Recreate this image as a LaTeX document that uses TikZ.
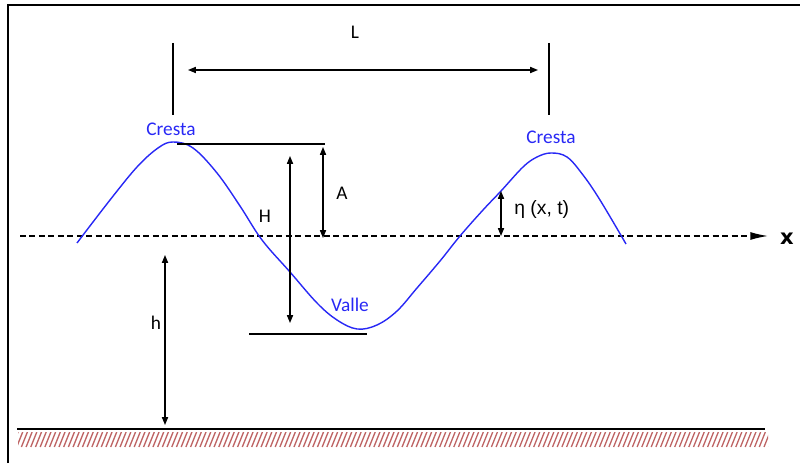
\documentclass[tikz,border=0pt]{standalone}
\usepackage{fontspec}
\setmainfont{Carlito}
\newfontfamily\arialfont{Liberation Sans}
\newfontfamily\heavyfont{DejaVu Sans}
\usetikzlibrary{arrows.meta}
\definecolor{waveblue}{RGB}{40,40,245}
\definecolor{hatchred}{RGB}{190,100,100}

\begin{document}
\begin{tikzpicture}[x=0.02cm, y=0.02cm,
    lbl/.style={font=\fontsize{11}{13}\selectfont, inner sep=0pt},
    bluelbl/.style={lbl, text=waveblue},
    dimarrow/.style={{Triangle[length=4.5pt,width=3.5pt]}-{Triangle[length=4.5pt,width=3.5pt]}, line width=0.7pt},
    axisline/.style={-{Latex[length=10pt,width=4.5pt]}, dash pattern=on 3.4pt off 2pt, line width=0.75pt},
    thickline/.style={line width=1.1pt},
    wave/.style={draw=waveblue, line width=0.8pt},
    hatch/.style={draw=hatchred, line width=0.75pt}]
    \useasboundingbox (0,0) rectangle (800,463);

    % Frame
    \draw[line width=1.2pt] (8,0) -- (8,458) -- (800,458);

    % Points used by the dimension arrows
    \coordinate (tickLtop) at (173,420);  \coordinate (tickLbot) at (173,348);
    \coordinate (tickRtop) at (549,420);  \coordinate (tickRbot) at (549,348);
    \coordinate (lenL) at (188,393);      \coordinate (lenR) at (538,393);
    \coordinate (crestTop) at (177,319);  \coordinate (crestEnd) at (325,319);
    \coordinate (ampTop) at (323,316);    \coordinate (ampBot) at (323,225);
    \coordinate (hgtTop) at (290,307);    \coordinate (hgtBot) at (290,140);
    \coordinate (troughL) at (249,129);   \coordinate (troughR) at (367,129);
    \coordinate (etaTop) at (501,272);    \coordinate (etaBot) at (501,227);
    \coordinate (axisL) at (20,227);      \coordinate (axisR) at (768,227);
    \coordinate (depthTop) at (165,208);  \coordinate (depthBot) at (165,38);
    \coordinate (gndL) at (17,34);        \coordinate (gndR) at (765,34);

    % Wave length L
    \draw[thickline] (tickLtop) -- (tickLbot);
    \draw[thickline] (tickRtop) -- (tickRbot);
    \draw[dimarrow] (lenL) -- (lenR);
    \node[lbl] (lenlbl) at (355,431) {L};

    % Still water level
    \draw[axisline] (axisL) -- (axisR);
    \node[font=\heavyfont\bfseries\fontsize{12}{14}\selectfont, inner sep=0pt] (xlbl) at (787,224) {x};

    % Wave profile
    \draw[wave] plot[smooth, tension=0.6] coordinates {
        (77,220) (110,263) (137,296) (158,315) (173,321) (193,315) (217,290)
        (240,257) (262,223) (290,191) (317,160) (337,143) (357,134) (377,138)
        (397,152) (417,175) (440,202) (460,227) (483,253) (501,272) (523,296)
        (537,306) (551,310) (567,306) (583,288) (600,263) (626,219)};
    \node[bluelbl] (crestlblL) at (171,334) {Cresta};
    \node[bluelbl] (crestlblR) at (551,326) {Cresta};
    \node[bluelbl] (vallelbl) at (350,158) {Valle};

    % Amplitude and height
    \draw[thickline] (crestTop) -- (crestEnd);
    \draw[dimarrow] (ampTop) -- (ampBot);
    \node[lbl] (amplbl) at (342,270) {A};
    \draw[dimarrow] (hgtTop) -- (hgtBot);
    \node[lbl] (hgtlbl) at (265,247) {H};
    \draw[thickline] (troughL) -- (troughR);

    % Surface elevation
    \draw[dimarrow] (etaTop) -- (etaBot);
    \node[font=\arialfont\fontsize{11}{13}\selectfont, inner sep=0pt, anchor=west] (etalbl) at (514,253) {η (x, t)};

    % Water depth
    \draw[dimarrow] (depthTop) -- (depthBot);
    \node[lbl] (depthlbl) at (156,140) {h};

    % Sea bed
    \draw[line width=1.7pt] (gndL) -- (gndR);
    \begin{scope}
        \clip (18,16) rectangle (768,31);
        \foreach \i in {0,...,165}
            \draw[hatch] ({12+4.7*\i},16) -- ++(6,15);
    \end{scope}
\end{tikzpicture}
\end{document}
